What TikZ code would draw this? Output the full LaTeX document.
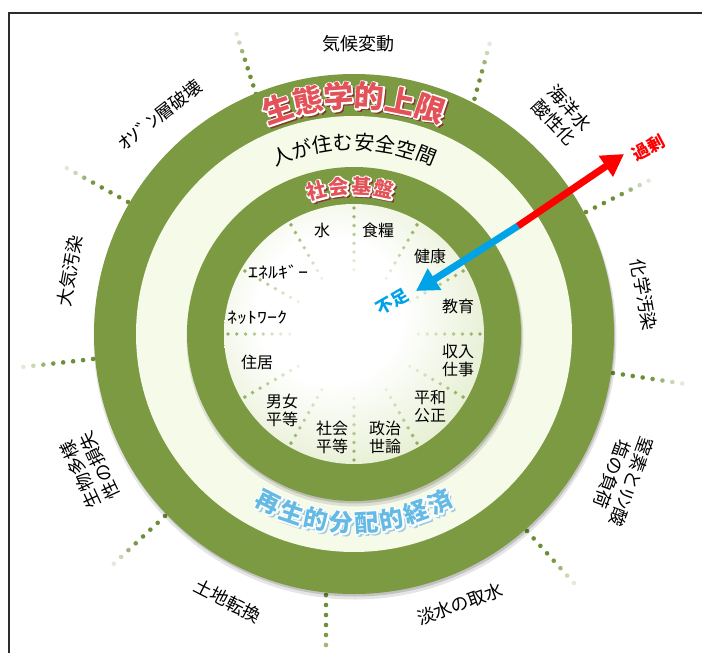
\documentclass[tikz,border=0pt]{standalone}
\usepackage{fontspec}
\setmainfont{Noto Sans CJK JP}
\usetikzlibrary{calc,arrows.meta}
\definecolor{ringgreen}{RGB}{124,154,66}
\definecolor{cream}{RGB}{246,250,232}
\definecolor{diskedge}{RGB}{200,219,156}
\definecolor{dotg}{RGB}{108,142,52}
\definecolor{idot}{RGB}{140,172,88}
\definecolor{titlered}{RGB}{226,82,88}
\definecolor{shadred}{RGB}{135,40,40}
\definecolor{titleblue}{RGB}{100,186,228}
\definecolor{shadblue}{RGB}{140,195,225}
\definecolor{arrblue}{RGB}{0,162,232}
\definecolor{framegray}{RGB}{45,45,45}
\pgfdeclareradialshading{innerdisk}{\pgfpoint{-6bp}{6bp}}{color(0bp)=(white); color(14bp)=(white); color(50bp)=(diskedge); color(60bp)=(diskedge)}
\newcommand\strokeon[1]{\special{pdf:literal direct 1 j #1 w 2 Tr}}
\newcommand\strokeoff{\special{pdf:literal direct 0 Tr}}
\newcommand\fancychar[6]{%
  \node[#5, rotate=#3] (#1-s) at ($#2+(2,-2)$) {\strokeon{1.4}#6\strokeoff};
  \node[#4, text=white, rotate=#3] (#1-h) at ($#2$) {\strokeon{3}#6\strokeoff};
  \node[#4, rotate=#3] (#1) at ($#2$) {#6};
}
\newcommand\outerspoke[3]{%
  \foreach \k/\op in {0/1,1/1,2/1,3/1,4/0.9,5/0.65,6/0.35,7/0.18}{%
    \fill[dotg, fill opacity=\op] ($(#1)+(#2:\k*#3)$) circle (2.3);}
}
\begin{document}
\begin{tikzpicture}[x=1pt,y=1pt,
  outerlbl/.style={font=\fontsize{18}{21}\selectfont, align=center, inner sep=0pt},
  innerlbl/.style={font=\fontsize{16}{18}\selectfont, align=center, inner sep=0pt},
  redtitle/.style={font=\fontsize{30}{30}\selectfont\bfseries, text=titlered, inner sep=0pt},
  redshadow/.style={font=\fontsize{30}{30}\selectfont\bfseries, text=shadred, inner sep=0pt, opacity=0.75},
  redtitlesm/.style={font=\fontsize{20}{20}\selectfont\bfseries, text=titlered, inner sep=0pt},
  redshadowsm/.style={font=\fontsize{20}{20}\selectfont\bfseries, text=shadred, inner sep=0pt, opacity=0.7},
  bluetitle/.style={font=\fontsize{24}{24}\selectfont\bfseries, text=titleblue, inner sep=0pt},
  blueshadow/.style={font=\fontsize{24}{24}\selectfont\bfseries, text=shadblue, inner sep=0pt, opacity=0.7},
  midtitle/.style={font=\fontsize{20}{20}\selectfont, text=black, inner sep=0pt},
  flowlbl/.style={font=\fontsize{17}{17}\selectfont\bfseries, inner sep=0pt}
]
\useasboundingbox (0,0) rectangle (702,-653);
\fill[white] (0,0) rectangle (702,-653);
\coordinate (C) at (354,-334);
% frame
\draw[framegray, line width=2pt] (9,-660) -- (9,-13) -- (710,-13);
% outer dotted spokes
\outerspoke{256,-94}{107.9}{9}
\outerspoke{472,-108}{74.7}{9.5}
\outerspoke{586,-212}{26.6}{10}
\outerspoke{613,-373}{-8.6}{10}
\outerspoke{527,-531}{-48}{10}
\outerspoke{326,-595}{-90}{10}
\outerspoke{165,-516}{-137}{10}
\outerspoke{93,-359}{-173.5}{10}
\outerspoke{128,-202}{151}{10}
% rings
\fill[black, opacity=0.10] ($(C)+(1,-4)$) circle (261.5);
\fill[black, opacity=0.15] ($(C)+(1,-2.5)$) circle (260);
\fill[ringgreen] (C) circle (260);
\fill[cream] (C) circle (218);
\fill[black, opacity=0.10] ($(C)+(1,-4)$) circle (168.5);
\fill[black, opacity=0.15] ($(C)+(1,-2.5)$) circle (167);
\fill[ringgreen] (C) circle (167);
\shade[shading=innerdisk] (C) circle (130);
% inner dotted spokes
\foreach \a in {0,30,...,330}{
  \foreach \k/\op in {0/0.95,1/0.85,2/0.72,3/0.6,4/0.48,5/0.36,6/0.25,7/0.15}{
    \fill[idot, fill opacity=\op] ($(C)+(\a:126-\k*8.8)$) circle (1.9);
  }
}
% curved titles
\foreach \ch [count=\i] in {生,態,学,的,上,限}{
  \pgfmathsetmacro\ang{90+2.5*7.5-(\i-1)*7.5}
  \pgfmathsetmacro\rot{\ang-90}
  \fancychar{eco\i}{(C)+(\ang:238)}{\rot}{redtitle}{redshadow}{\ch}
}
\foreach \ch [count=\i] in {人,が,住,む,安,全,空,間}{
  \pgfmathsetmacro\ang{90+3.5*6.3-(\i-1)*6.3}
  \pgfmathsetmacro\rot{\ang-90}
  \node[midtitle, rotate=\rot] (safe\i) at ($(C)+(\ang:192)$) {\ch};
}
\foreach \ch [count=\i] in {社,会,基,盤}{
  \pgfmathsetmacro\ang{91.5+1.5*8.8-(\i-1)*8.8}
  \pgfmathsetmacro\rot{\ang-90}
  \fancychar{soc\i}{(C)+(\ang:148)}{\rot}{redtitlesm}{redshadowsm}{\ch}
}
\foreach \ch [count=\i] in {再,生,的,分,配,的,経,済}{
  \pgfmathsetmacro\ang{-90-3.5*7.7+(\i-1)*7.7}
  \pgfmathsetmacro\rot{\ang+90}
  \fancychar{reg\i}{(C)+(\ang:189)}{\rot}{bluetitle}{blueshadow}{\ch}
}
% outer labels
\node[outerlbl] (climate) at (358,-44) {気候変動};
\node[outerlbl, rotate=38] (ozone) at (160,-115) {\scalebox{1.3}[1]{ｵｿﾞﾝ}層破壊};
\node[outerlbl, rotate=-47] (ocean) at (562,-115) {海洋水\\酸性化};
\node[outerlbl, rotate=-80] (chem) at (644,-295) {化学汚染};
\node[outerlbl, rotate=-110] (nitro) at (622,-478) {窒素と\scalebox{1.2}[1]{ﾘﾝ}酸\\塩の負荷};
\node[outerlbl, rotate=20] (fresh) at (460,-604) {淡水の取水};
\node[outerlbl, rotate=-27] (land) at (228,-601) {土地転換};
\node[outerlbl, rotate=115] (bio) at (90,-470) {生物多様\\性の損失};
\node[outerlbl, rotate=80] (air) at (70,-271) {大気汚染};
% inner labels
\node[innerlbl] (water) at (322,-230) {水};
\node[innerlbl] (food) at (378,-230) {食糧};
\node[innerlbl] (health) at (430,-256) {健康};
\node[innerlbl] (edu) at (458,-306) {教育};
\node[innerlbl] (income) at (458,-360) {収入\\仕事};
\node[innerlbl] (peace) at (430,-407) {平和\\公正};
\node[innerlbl] (polit) at (385,-437) {政治\\世論};
\node[innerlbl] (socialeq) at (332,-437) {社会\\平等};
\node[innerlbl] (gender) at (282,-410) {男女\\平等};
\node[innerlbl] (housing) at (257,-362) {住居};
\node[innerlbl] (network) at (257,-318) {\scalebox{1.25}[1]{ﾈｯﾄﾜｰｸ}};
\node[innerlbl] (energy) at (278,-272) {\scalebox{1.25}[1]{ｴﾈﾙｷﾞｰ}};
% arrow
\coordinate (mid) at (518,-226);
\coordinate (tipR) at (624,-154);
\coordinate (tipB) at (416,-291);
\draw[arrblue, line width=7pt, -{Triangle[length=22pt,width=24pt]}] (mid) -- (tipB);
\draw[red, line width=7pt, -{Triangle[length=22pt,width=24pt]}] (mid) -- (tipR);
\node[flowlbl, text=arrblue, rotate=30] (short) at (392,-302) {不足};
\node[flowlbl, text=red, rotate=28] (over) at (648,-148) {過剰};
\end{tikzpicture}
\end{document}
